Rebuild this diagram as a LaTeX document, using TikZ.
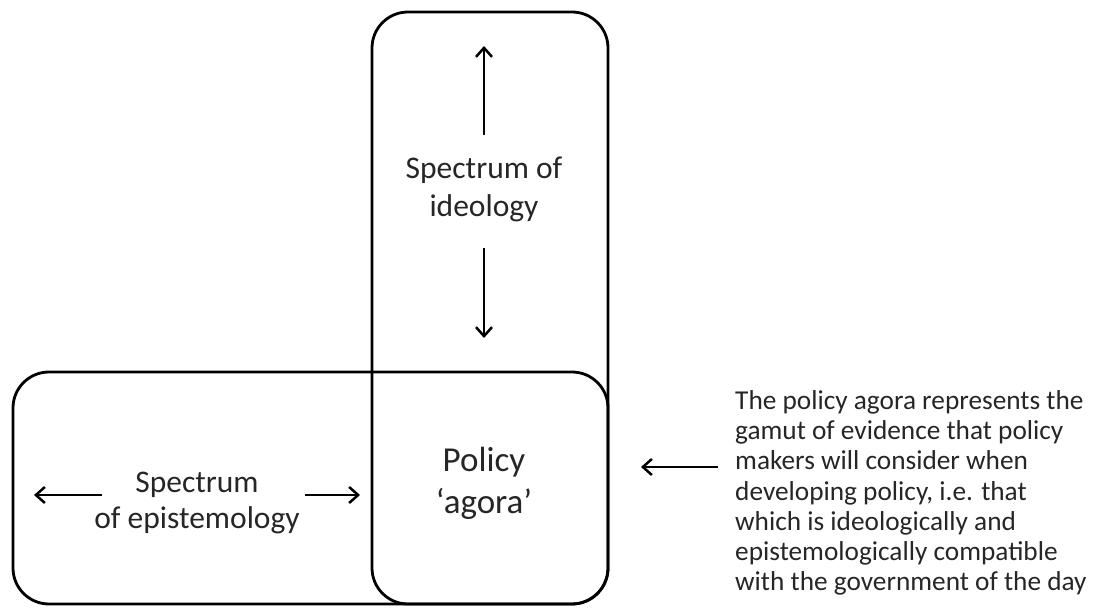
\documentclass[tikz,border=0pt]{standalone}
\usepackage{fontspec}
\setmainfont{Carlito}
\usetikzlibrary{arrows.meta}
\begin{document}
\begin{tikzpicture}[x=1pt,y=-1pt,
  box/.style={draw=black,line width=2.8pt,rounded corners=36pt},
  arr/.style={line width=2.5pt,-{Straight Barb[length=9pt,width=16pt,line width=2.5pt]}},
  lbl/.style={font=\fontsize{31.5}{38}\selectfont,align=center,text=black!85,inner sep=0pt},
  note/.style={font=\fontsize{27.3}{30.3}\selectfont,align=left,text=black!85,inner sep=0pt,anchor=north west}]
\useasboundingbox (0,0) rectangle (1096,612);
\draw[box] (372,12) rectangle (608,604);
\draw[box] (13,372) rectangle (608,604);
\node[lbl] (ideo) at (484,189) {Spectrum of\\ideology};
\coordinate (iu1) at (484,135); \coordinate (iu2) at (484,46);
\coordinate (id1) at (484,248); \coordinate (id2) at (484,338);
\draw[arr] (iu1) -- (iu2);
\draw[arr] (id1) -- (id2);
\node[lbl,font=\fontsize{31.5}{36}\selectfont] (epi) at (197,503) {Spectrum\\of epistemology};
\coordinate (el1) at (102,495); \coordinate (el2) at (34,495);
\coordinate (er1) at (305,495); \coordinate (er2) at (360,495);
\draw[arr] (el1) -- (el2);
\draw[arr] (er1) -- (er2);
\node[lbl,font=\fontsize{35}{42}\selectfont] (agora) at (484,483) {Policy\\‘agora’};
\node[note] (txt) at (735,390) {The policy agora represents the\\gamut of evidence that policy\\makers will consider when\\developing policy, i.e. that\\which is ideologically and\\epistemologically compatible\\with the government of the day};
\coordinate (na1) at (718,467); \coordinate (na2) at (641,467);
\draw[arr] (na1) -- (na2);
\end{tikzpicture}
\end{document}
